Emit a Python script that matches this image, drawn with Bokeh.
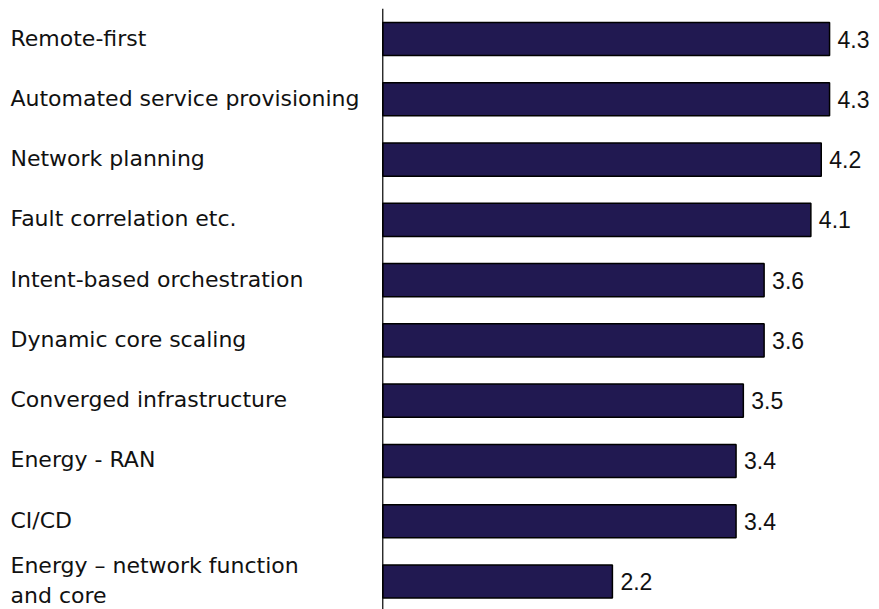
from bokeh.plotting import figure
from bokeh.models import ColumnDataSource, Range1d, Span
from bokeh.core.properties import value
from bokeh.embed import file_html
from bokeh.resources import INLINE

categories = [
    "Remote-first",
    "Automated service provisioning",
    "Network planning",
    "Fault correlation etc.",
    "Intent-based orchestration",
    "Dynamic core scaling",
    "Converged infrastructure",
    "Energy - RAN",
    "CI/CD",
    "Energy \u2013 network function\nand core",
]
values = [4.30, 4.30, 4.22, 4.12, 3.67, 3.67, 3.47, 3.40, 3.40, 2.21]
value_labels = ["4.3", "4.3", "4.2", "4.1", "3.6", "3.6", "3.5", "3.4", "3.4", "2.2"]

W, H = 875, 609
x_start, x_end = -3.679, 4.742
px_per_unit = W / (x_end - x_start)

idx = list(range(len(categories)))
src = ColumnDataSource(dict(
    y=idx,
    v=values,
    cat=categories,
    lab=value_labels,
    lx=[x_start + 10 / px_per_unit] * len(idx),
))

p = figure(width=W, height=H, output_backend="svg", toolbar_location=None,
           x_range=Range1d(x_start, x_end), y_range=Range1d(9.464, -0.506),
           x_axis_location=None, y_axis_location=None, min_border=0,
           min_border_top=8)
p.outline_line_color = None
p.xgrid.visible = False
p.ygrid.visible = False

p.hbar(y="y", left=0, right="v", height=0.55, source=src,
       fill_color="#211951", line_color="#000000", line_width=1.5)

p.add_layout(Span(location=0, dimension="height", line_color="#000000", line_width=1.2))

p.text(x="v", y="y", text="lab", source=src, x_offset=8,
       text_font=value("Liberation Sans"), text_font_size="23px",
       text_baseline="middle", text_align="left", text_color="#111111")

p.text(x="lx", y="y", text="cat", source=src, y_offset=-1,
       text_font=value("DejaVu Sans"), text_font_size="22px",
       text_baseline="middle", text_align="left", text_color="#111111",
       text_line_height=1.2)

open("out.html", "w").write(file_html(p, INLINE))
